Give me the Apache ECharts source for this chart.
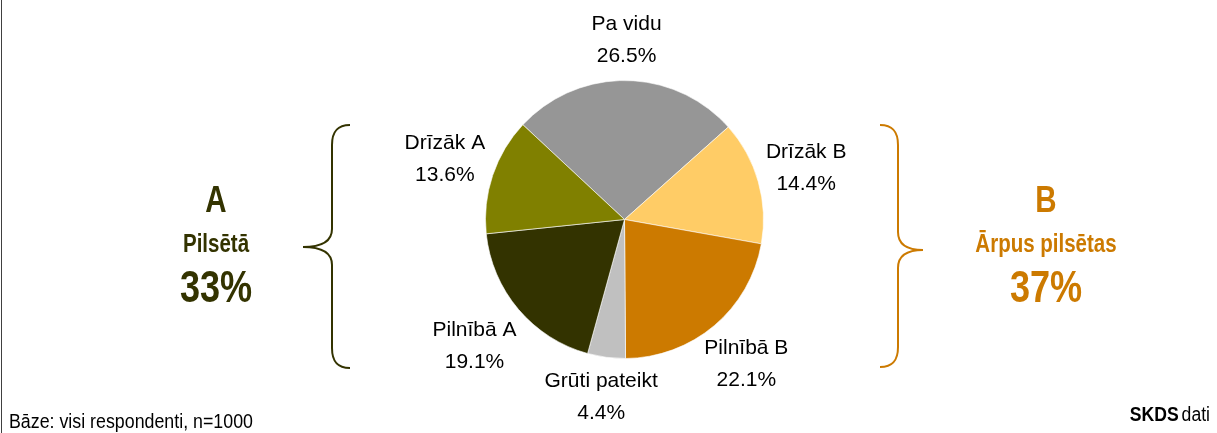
<!DOCTYPE html>
<html>
<head>
<meta charset="utf-8">
<script src="https://cdn.jsdelivr.net/npm/echarts@6/dist/echarts.min.js"></script>
<style>
html,body{margin:0;padding:0;background:#fff;}
#chart{width:1217px;height:433px;}
</style>
</head>
<body>
<div id="chart"></div>
<script>
const categories = ['Pa vidu', 'Drīzāk B', 'Pilnībā B', 'Grūti pateikt', 'Pilnībā A', 'Drīzāk A'];
const values = [26.5, 14.4, 22.1, 4.4, 19.1, 13.6];
const colors = ['#969696', '#FFCC66', '#CC7A00', '#C0C0C0', '#333300', '#808000'];
const groupA = { letter: 'A', name: 'Pilsētā', share: '33%' };
const groupB = { letter: 'B', name: 'Ārpus pilsētas', share: '37%' };
const baseNote = 'Bāze: visi respondenti, n=1000';

const FONT = "'Liberation Sans', Arial, sans-serif";
const colA = '#333300', colB = '#CC7A00';
const CX = 624.5, CY = 219.5, R = 139, GAP = 8, SQ = 0.82;

// curly brace built from bezier and line pieces
function brace(xe, xv, xp, y0, ym, y1, color) {
  const s = Math.sign(xe - xv);
  const style = { fill: 'none', stroke: color, lineWidth: 2 };
  const k = xv - xp;
  return [
    { type: 'bezierCurve', shape: { x1: xe, y1: y0, cpx1: xv + s * 5, cpy1: y0, cpx2: xv, cpy2: y0 + 7, x2: xv, y2: y0 + 20 }, style },
    { type: 'line', shape: { x1: xv, y1: y0 + 20, x2: xv, y2: ym - 18 }, style },
    { type: 'bezierCurve', shape: { x1: xv, y1: ym - 18, cpx1: xv, cpy1: ym - 6, cpx2: xv - k * 0.3, cpy2: ym, x2: xp, y2: ym }, style },
    { type: 'bezierCurve', shape: { x1: xp, y1: ym, cpx1: xv - k * 0.3, cpy1: ym, cpx2: xv, cpy2: ym + 6, x2: xv, y2: ym + 18 }, style },
    { type: 'line', shape: { x1: xv, y1: ym + 18, x2: xv, y2: y1 - 20 }, style },
    { type: 'bezierCurve', shape: { x1: xv, y1: y1 - 20, cpx1: xv, cpy1: y1 - 7, cpx2: xv + s * 5, cpy2: y1, x2: xe, y2: y1 }, style }
  ];
}

function sideText(x, y, text, size, color) {
  return { type: 'text', x: x, y: y, scaleX: SQ, originX: 0, originY: 0,
    style: { text: text, fill: color, font: 'bold ' + size + 'px ' + FONT, textAlign: 'center', textVerticalAlign: 'middle' } };
}

const pieData = categories.map((c, i) => ({ name: c, value: values[i], itemStyle: { color: colors[i] } }));

const chart = echarts.init(document.getElementById('chart'), null, { renderer: 'canvas' });
chart.setOption({
  animation: false,
  backgroundColor: '#fff',
  series: [
    {
      type: 'pie',
      center: [CX, CY],
      radius: [0, R],
      startAngle: 137,
      clockwise: true,
      silent: true,
      itemStyle: { borderColor: '#fff', borderWidth: 0.6 },
      label: { show: false },
      labelLine: { show: false },
      data: pieData
    },
    {
      type: 'pie',
      center: [CX, CY],
      radius: [184, 188],
      startAngle: 137,
      clockwise: true,
      silent: true,
      itemStyle: { color: 'rgba(0,0,0,0)' },
      label: {
        show: true,
        position: 'inside',
        formatter: p => p.name + '\n' + p.value.toFixed(1) + '%',
        color: '#000',
        fontFamily: FONT,
        fontSize: 21,
        lineHeight: 32,
        align: 'center'
      },
      labelLine: { show: false },
      // keep each label box a fixed gap outside the pie, along its slice's middle direction
      labelLayout: function (p) {
        const r = p.labelRect;
        const mx = r.x + r.width / 2, my = r.y + r.height / 2;
        const dx = mx - CX, dy = my - CY;
        const len = Math.hypot(dx, dy) || 1;
        const ux = dx / len, uy = dy / len;
        const tx = Math.abs(ux) > 1e-6 ? (r.width / 2) / Math.abs(ux) : Infinity;
        const ty = Math.abs(uy) > 1e-6 ? (r.height / 2) / Math.abs(uy) : Infinity;
        const d = R + GAP + Math.min(tx, ty);
        return { x: CX + ux * d, y: CY + uy * d, align: 'center', verticalAlign: 'middle' };
      },
      data: categories.map((c, i) => ({ name: c, value: values[i] }))
    }
  ],
  graphic: [
    { type: 'line', shape: { x1: 1.5, y1: 0, x2: 1.5, y2: 433 }, style: { stroke: '#404040', lineWidth: 1 } },
    ...brace(350, 332, 303, 125, 247, 368, colA),
    ...brace(880, 898, 923, 125, 250, 367, colB),
    sideText(216, 202, groupA.letter, 36, colA),
    sideText(216, 245, groupA.name, 25, colA),
    sideText(216, 290, groupA.share, 44, colA),
    sideText(1046, 202, groupB.letter, 36, colB),
    sideText(1046, 245, groupB.name, 25, colB),
    sideText(1046, 290, groupB.share, 44, colB),
    { type: 'text', x: 9, y: 422, scaleX: 0.89, originX: 0, originY: 0,
      style: { text: baseNote, fill: '#000', font: '20px ' + FONT, textAlign: 'left', textVerticalAlign: 'middle' } },
    { type: 'text', x: 1210, y: 415, scaleX: 0.88, originX: 0, originY: 0, style: {
        text: '{b|SKDS} {n|dati}', textAlign: 'right', textVerticalAlign: 'middle',
        rich: { b: { fontWeight: 'bold', fontSize: 20, fontFamily: FONT, fill: '#000' }, n: { fontSize: 20, fontFamily: FONT, fill: '#000' } } } }
  ]
});
</script>
</body>
</html>
